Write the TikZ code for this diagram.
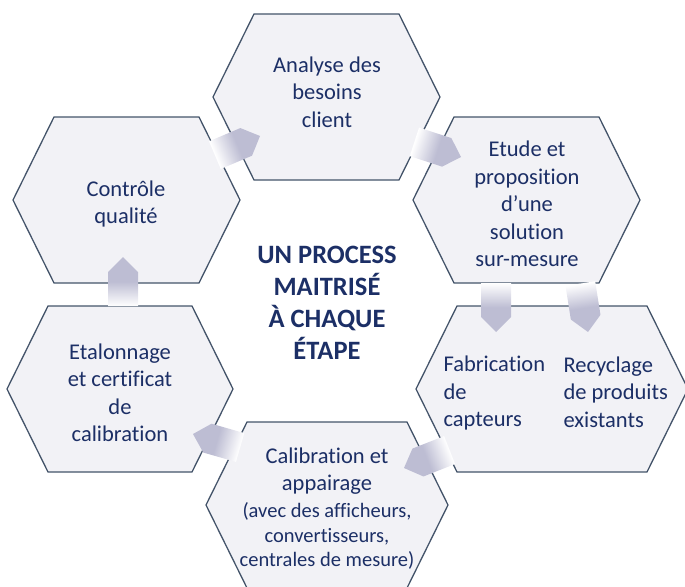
\documentclass[tikz,border=0pt]{standalone}
\usepackage{fontspec}
\setmainfont{Carlito}[Ligatures=NoCommon]
\definecolor{hexfill}{HTML}{F2F2F6}
\definecolor{hexline}{HTML}{44546A}
\definecolor{navy}{HTML}{1C2F66}
\definecolor{flowcol}{HTML}{BDBDD3}
\pgfdeclarehorizontalshading{flowshade}{100bp}{color(0bp)=(white); color(25bp)=(white); color(50bp)=(flowcol); color(100bp)=(flowcol)}
\tikzset{
  hexa/.style={draw=hexline, fill=hexfill, line width=1.3pt, line join=miter},
  txt/.style={text=navy, align=center, font=\fontsize{22.5}{27.5}\selectfont},
  smalltxt/.style={text=navy, align=center, font=\fontsize{20.5}{24.5}\selectfont},
  headtxt/.style={text=navy, align=center, font=\bfseries\fontsize{26.5}{32}\selectfont}
}
\begin{document}
\begin{tikzpicture}[x=1pt,y=-1pt]
  \useasboundingbox (0,0) rectangle (685,586);
  % hexagons: centre x / centre y / half width
  \foreach \cx/\cy/\hw in {326.5/97/113.5, 526.5/200/113.5, 552/389/136,
                           327/505/121, 120/389/113, 126.5/200/113.5}
    \draw[hexa] (\cx-\hw,\cy) -- (\cx-\hw+41,\cy-83) -- (\cx+\hw-41,\cy-83)
      -- (\cx+\hw,\cy) -- (\cx+\hw-41,\cy+83) -- (\cx-\hw+41,\cy+83) -- cycle;
  % arrows: tip x / tip y / direction
  \foreach \tx/\ty/\ang in {260/136/23, 461/157/-18, 496/332/-90, 588/332/-81,
                            404/468/201.5, 193/434/164, 123/257/90}{
    \begin{scope}[transform canvas={shift={(\tx,\ty)}, rotate=\ang}]
      \shade[shading=flowshade] (-49,-15) -- (-15,-15) -- (0,0) -- (-15,15) -- (-49,15) -- cycle;
    \end{scope}
  }
  % labels
  \node[headtxt] (process) at (327,303) {UN PROCESS\\MAITRISÉ\\À CHAQUE\\ÉTAPE};
  \node[txt] (besoins) at (327,92) {Analyse des\\besoins\\client};
  \node[txt] (etude) at (527,204) {Etude et\\proposition\\d’une\\solution\\sur-mesure};
  \node[txt, align=left, anchor=west] (fabrication) at (440,393) {Fabrication\\de\\capteurs};
  \node[txt, align=left, anchor=west] (recyclage) at (560,392) {Recyclage\\de produits\\existants};
  \node[txt] (calibration) at (327,471) {Calibration et\\appairage};
  \node[smalltxt] (appareils) at (327,536) {(avec des afficheurs,\\convertisseurs,\\centrales de mesure)};
  \node[txt] (etalonnage) at (120,393) {Etalonnage\\et certificat\\de\\calibration};
  \node[txt] (controle) at (126,204) {Contrôle\\qualité};
\end{tikzpicture}
\end{document}
